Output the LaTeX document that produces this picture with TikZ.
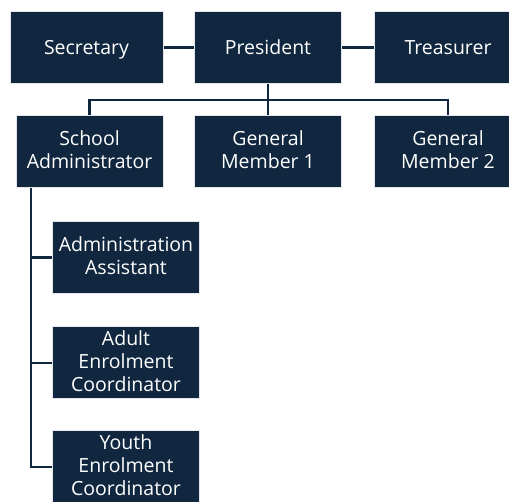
\documentclass[tikz,border=0pt]{standalone}
\usepackage{fontspec}
\setmainfont{Open Sans}
\usetikzlibrary{positioning}
\definecolor{navy}{HTML}{10273F}
\definecolor{rim}{HTML}{E3E6EA}

\begin{document}
\begin{tikzpicture}[
    x=1pt, y=-1pt,
    role/.style={rectangle, draw=rim, line width=1pt, fill=navy, text=white,
        minimum width=147pt, minimum height=72pt, align=center,
        font=\fontsize{19.5}{23}\selectfont, inner sep=0pt,
        execute at begin node=\rule{0pt}{18.5pt},
        execute at end node=\rule[-4.5pt]{0pt}{4.5pt}},
    link/.style={draw=navy, line width=2.2pt}
]
\useasboundingbox (0,0) rectangle (509,502);

% Top row
\node[role, minimum width=153pt] (secretary) at (86.5,47.5) {Secretary};
\node[role] (president) at (268,47.5) {President};
\node[role] (treasurer) at (448,47.5) {Treasurer};

% Second row
\node[role] (admin) at (89.5,152) {School\\Administrator};
\node[role] (member1) at (268,152) {General\\Member 1};
\node[role] (member2) at (448,152) {General\\Member 2};

% Staff under the administrator
\node[role] (assistant) at (126,257.5) {Administration\\Assistant};
\node[role] (adult) at (126,363) {Adult\\Enrolment\\Coordinator};
\node[role] (youth) at (126,467) {Youth\\Enrolment\\Coordinator};

% Connectors
\coordinate (bus) at (268,100);
\coordinate (spine) at (31,188);
\draw[link] (secretary) -- (president);
\draw[link] (president) -- (treasurer);
\draw[link] (president.south) -- (bus);
\draw[link] (admin.north) |- (bus) -| (member2.north);
\draw[link] (bus) -- (member1.north);
\foreach \x in {assistant, adult, youth} {
   \draw[link] (spine) |- (\x.west);
}

\end{tikzpicture}
\end{document}
